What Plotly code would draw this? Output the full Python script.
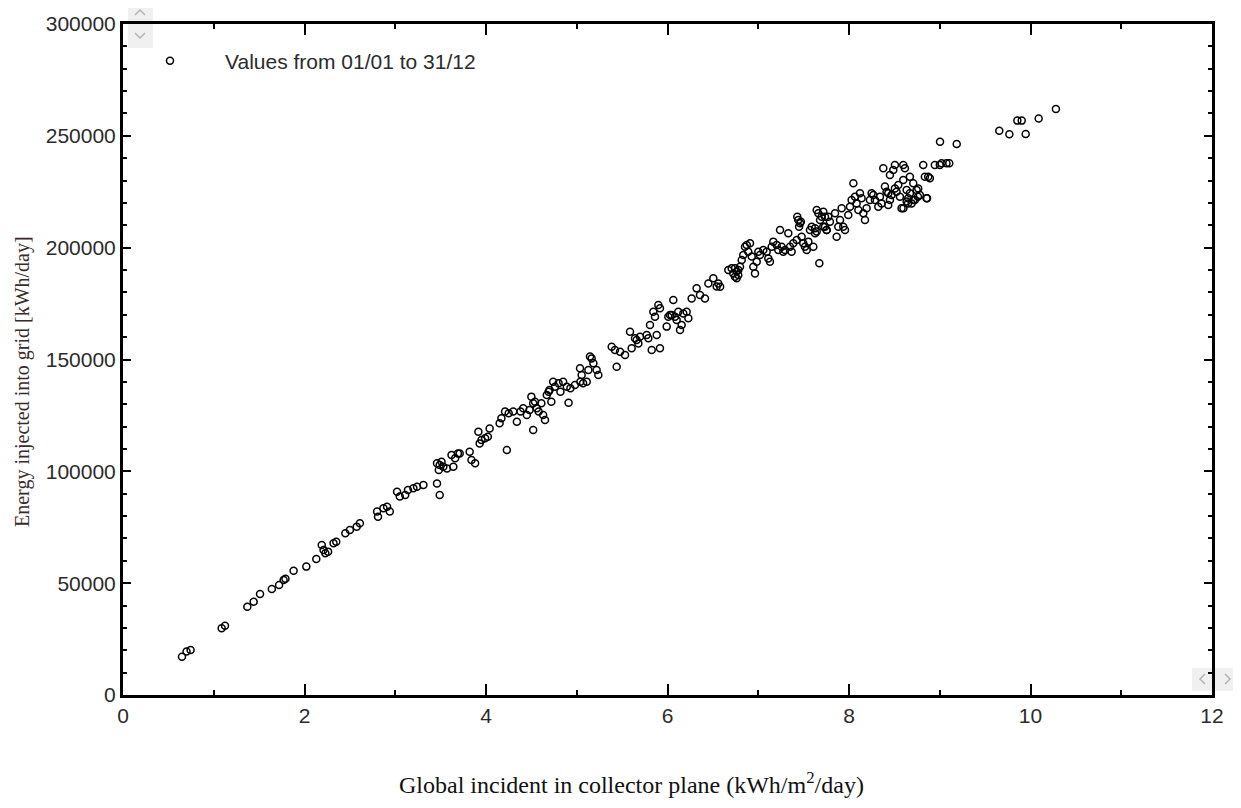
import plotly.graph_objects as go

# Global incident in collector plane (kWh/m2/day)
x_irr = [
    0.65, 0.70, 0.745, 1.087, 1.124, 1.37, 1.44, 1.51, 1.64, 1.72, 1.77, 1.79, 1.88, 2.02, 2.13,
    2.21, 2.19, 2.23, 2.26, 2.32, 2.35, 2.45, 2.50, 2.575, 2.61, 2.80, 2.81, 2.87, 2.91, 2.94,
    3.02, 3.05, 3.11, 3.14, 3.20, 3.24, 3.31, 3.46, 3.48, 3.51, 3.53, 3.57, 3.62, 3.66, 3.69,
    3.46, 3.49,
    3.49, 3.64, 3.71, 3.82, 3.84, 3.88, 3.93, 3.916, 3.95, 3.99, 4.04, 4.02, 4.15, 4.17, 4.21,
    4.25, 4.34, 4.23, 4.30, 4.38, 4.41, 4.45, 4.48, 4.50, 4.52, 4.54, 4.56, 4.58, 4.52, 4.61,
    4.63, 4.65, 4.67, 4.69, 4.70, 4.72, 4.74, 4.76, 4.80, 4.82, 4.85, 4.89, 4.91, 4.93, 4.98,
    5.04, 5.07, 5.11,
    5.036, 5.054, 5.128, 5.164, 5.183, 5.219, 5.238, 5.146, 5.385, 5.421, 5.44, 5.477, 5.532,
    5.587, 5.605, 5.642, 5.66, 5.679, 5.697, 5.771, 5.789, 5.807, 5.826, 5.844, 5.862, 5.881,
    5.899, 5.917, 5.917, 5.991, 6.009, 6.028, 6.046, 6.064, 6.083, 6.101, 6.119, 6.138, 6.156,
    6.174, 6.211, 6.23, 6.266, 6.321, 6.358, 6.413, 6.45, 6.505, 6.542,
    6.56, 6.58, 6.67, 6.707, 6.725, 6.744, 6.762, 6.780, 6.799, 6.818, 6.835, 6.854, 6.873,
    6.890, 6.909, 6.928, 6.946, 6.964, 6.983, 7.001, 7.019, 7.056, 7.093, 7.111, 7.129, 7.148,
    7.166, 7.203, 7.221, 7.240, 7.258, 7.276, 7.295, 7.331, 7.350, 7.368, 7.386, 7.424, 7.441,
    7.460, 7.478, 7.496, 7.515, 7.534, 7.552, 7.570, 7.589, 7.607, 7.626, 7.644, 7.662, 7.681,
    7.699, 7.717, 7.736, 7.754, 7.772, 7.673, 7.43, 7.45, 7.47, 7.626, 7.644, 6.744, 6.762, 6.78,
    7.735, 7.717, 7.754, 7.79, 7.846, 7.864, 7.882, 7.901, 7.937, 7.956, 7.919, 7.992, 8.011,
    8.029, 8.048, 8.066, 8.084, 8.103, 8.121, 8.139, 8.158, 8.176, 8.194, 8.231, 8.249, 8.268,
    8.286, 8.323, 8.341, 8.359, 8.378, 8.396, 8.414, 8.433, 8.451, 8.469, 8.488, 8.506, 8.524,
    8.543, 8.561, 8.579, 8.598, 8.616, 8.635, 8.653, 8.671, 8.69, 8.708, 8.726, 8.745, 8.763,
    8.781, 8.818, 8.836, 8.854, 8.873, 8.891, 8.946, 9.001, 9.074, 8.451, 8.506, 8.598, 8.671,
    8.433, 8.635, 8.60, 8.65, 8.71, 8.76, 8.86,
    9.003, 9.187, 9.02, 9.105, 9.656, 9.767, 9.855, 9.903, 9.947, 10.09, 10.28,
]

# Energy injected into grid (kWh/day)
y_energy = [
    17100, 19400, 20100, 29800, 31000, 39500, 41700, 45200, 47400, 49200, 51400, 52000, 55600, 57400, 60800,
    64800, 67100, 63400, 64100, 67800, 68500, 72300, 73800, 75200, 76800, 82000, 79700, 83500, 84200, 82000,
    90900, 88700, 89400, 91700, 92400, 93100, 93900, 103600, 100600, 104300, 102100, 101300, 107300, 105800, 108000,
    94600, 89400,
    102800, 102100, 108000, 108800, 105100, 103600, 112500, 117700, 114000, 114800, 119200, 115500, 121500, 123700, 126700,
    126000, 122200, 109500, 126700, 126700, 128200, 125200, 127400, 133400, 130400, 131100, 128200, 126700, 118500, 130400,
    125200, 123000, 134100, 135600, 136400, 131100, 140100, 137800, 139400, 135600, 140100, 137800, 130700, 137100, 138600,
    140100, 139400, 140100,
    146100, 143100, 145300, 150500, 148300, 145300, 143100, 151300, 155700, 154200, 146800, 153500, 152000,
    162400, 155000, 159500, 158700, 157200, 160200, 161000, 159500, 165400, 154200, 171400, 169100, 161000,
    174400, 155000, 172900, 164700, 169100, 169900, 169900, 176600, 169100, 167700, 171400, 163200, 165400,
    170600, 171400, 168400, 177300, 181800, 178800, 177300, 184000, 186300, 182600,
    184000, 182500, 190000, 190800, 188500, 187000, 189300, 187800, 191500, 194500, 196700, 200400, 201200,
    198200, 202000, 196000, 191500, 188500, 193700, 198200, 196700, 199000, 198200, 195200, 193700, 200400,
    202700, 201200, 199000, 207900, 200400, 198200, 199000, 206400, 200400, 198200, 202000, 203400, 212400,
    210900, 204900, 202000, 200400, 199000, 202700, 207900, 209400, 200400, 206400, 216800, 215400, 212400,
    213800, 216100, 209400, 207900, 213800, 193000, 213800, 209400, 211600, 208700, 207200, 190800, 186300, 190000,
    213800, 209400, 207900, 211600, 215400, 204900, 209400, 212400, 209400, 207900, 217600, 214600, 218300,
    221300, 228800, 222800, 219800, 216800, 224300, 222100, 215400, 212400, 217600, 221300, 224300, 223500,
    221300, 218300, 222800, 219800, 235500, 227300, 225000, 224300, 221300, 223500, 234700, 226500, 225000,
    228000, 222800, 217600, 230300, 235500, 225800, 222100, 224300, 219800, 228800, 221300, 225800, 226500,
    223500, 237000, 231700, 222100, 231700, 231000, 237000, 237000, 237700, 232500, 237000, 237000, 231700,
    219100, 220600, 217600, 219800, 221300, 222800, 222100,
    247400, 246300, 237700, 237700, 252300, 250700, 256800, 256800, 250800, 257700, 262000,
]

series_name = "Values from 01/01 to 31/12"
x_title = "Global incident in collector plane (kWh/m<sup>2</sup>/day)"
y_title = "Energy injected into grid [kWh/day]"

# the page adds an 8px body margin, so the figure is drawn 8px smaller and offset
OFF = 8
W, H = 1241 - OFF, 808 - OFF
# plot area in reference-screenshot pixels
RL, RR, RT, RB = 123, 1212, 24, 695
L, R, T, B = RL - OFF, RR - OFF, RT - OFF, RB - OFF


def px(xp):
    return (xp - RL) / (RR - RL)


def py(yp):
    return (RB - yp) / (RB - RT)


sans = "Liberation Sans, Arial, sans-serif"
serif = "Liberation Serif, Times New Roman, serif"

fig = go.Figure()
fig.add_trace(go.Scatter(
    x=x_irr, y=y_energy, mode="markers", name=series_name,
    marker=dict(symbol="circle-open", size=7, color="black", line=dict(width=1.5, color="black")),
))

axis_common = dict(
    showline=True, linewidth=3, linecolor="black", mirror="ticks",
    ticks="inside", tickwidth=2, tickcolor="black",
    showgrid=False, zeroline=False,
    tickfont=dict(family=sans, size=21, color="#2b2b2b"),
)

fig.update_xaxes(range=[0, 12], tick0=0, dtick=2, ticklen=11,
                 minor=dict(dtick=1, ticklen=5, ticks="inside", tickwidth=2, tickcolor="black"),
                 **axis_common)
fig.update_yaxes(range=[0, 300000], tick0=0, dtick=50000, ticklen=8, tickformat="d",
                 minor=dict(dtick=10000, ticklen=4, ticks="inside", tickwidth=2, tickcolor="black"),
                 **axis_common)

annotations = [
    dict(text=x_title, x=px(631), y=py(783), xref="paper", yref="paper", showarrow=False,
         xanchor="center", yanchor="middle", font=dict(family=serif, size=24, color="#111111")),
    dict(text=y_title, x=px(22), y=py(382), xref="paper", yref="paper", showarrow=False,
         textangle=-90, xanchor="center", yanchor="middle",
         font=dict(family=serif, size=20, color="#3a2a2a")),
]

# scroll widgets (screenshot chrome)
shapes = [
    dict(type="rect", xref="paper", yref="paper", x0=px(128), x1=px(153), y0=py(6), y1=py(48),
         fillcolor="#f0f0f0", line=dict(width=0), layer="below"),
    dict(type="rect", xref="paper", yref="paper", x0=px(1192), x1=px(1240), y0=py(668), y1=py(691),
         fillcolor="#f0f0f0", line=dict(width=0), layer="below"),
]
for path in [
    [(135, 15), (140, 10), (145, 15)],
    [(135, 33), (140, 38), (145, 33)],
    [(1205, 674), (1200, 679), (1205, 684)],
    [(1225, 674), (1230, 679), (1225, 684)],
]:
    d = "M " + " L ".join(f"{px(a):.5f},{py(b):.5f}" for a, b in path)
    shapes.append(dict(type="path", xref="paper", yref="paper", path=d,
                       line=dict(color="#b4b4b4", width=1.5)))

fig.update_layout(
    width=W, height=H,
    margin=dict(l=L, r=W - R, t=T, b=H - B, autoexpand=False),
    paper_bgcolor="white", plot_bgcolor="white",
    showlegend=True,
    legend=dict(x=px(115), y=py(61), xanchor="left", yanchor="middle",
                bgcolor="rgba(0,0,0,0)", borderwidth=0, itemwidth=100,
                font=dict(family=sans, size=21, color="#2b2b2b")),
    annotations=annotations,
    shapes=shapes,
)

fig.write_html("out.html")
